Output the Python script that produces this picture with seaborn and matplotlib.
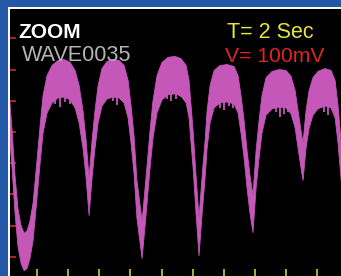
import numpy as np
import pandas as pd
import matplotlib
matplotlib.use("Agg")
import matplotlib.pyplot as plt
import seaborn as sns

# === Datos (tiempo en s, tension en mV) ===
t_sec = [-0.39, -0.06, 0.19, 0.39, 0.58, 0.77, 0.97, 1.16, 1.35, 1.54, 1.74,
         1.99, 2.19, 2.38, 2.64, 2.96, 3.34, 3.73, 4.12, 4.44, 4.70, 4.95, 5.15, 5.34,
         5.53, 5.72, 5.92, 6.17, 6.50, 6.88, 7.27, 7.59, 7.85, 8.04, 8.23, 8.42, 8.75,
         9.00, 9.26, 9.45, 9.71, 10.03, 10.42, 10.87, 11.25, 11.58, 11.77, 11.90, 12.03, 12.22, 12.41,
         12.61, 12.80, 12.93, 13.12, 13.38, 13.76, 14.21, 14.66, 14.92, 15.11, 15.31, 15.50, 15.69, 15.88,
         16.08, 16.27, 16.46, 16.72, 17.11, 17.56, 18.01, 18.33, 18.59, 18.78, 18.97, 19.10,
         19.29, 19.49, 19.74, 20.06, 20.51, 20.90, 21.16, 21.35, 21.54, 21.80, 22.12]
v_mid = [627, 569, 473, 344, 199, 93, 39, 16, 23, 55, 113,
         248, 360, 457, 521, 553, 569, 572, 563, 537, 489, 408, 312, 193,
         312, 408, 489, 543, 566, 572, 569, 553, 505, 424, 328, 183, 55,
         193, 344, 440, 521, 563, 579, 582, 575, 553, 505, 424, 344, 199, 64,
         199, 312, 408, 489, 537, 553, 556, 550, 521, 457, 376, 280, 199, 138,
         280, 376, 457, 514, 534, 540, 537, 518, 473, 408, 344, 305,
         408, 473, 514, 534, 543, 537, 505, 424, 312, 151, 55]
ruido_mv = 60          # semiancho de la banda de ruido

# picos de ruido que cuelgan bajo las crestas (s, mV minimo)
pico_t = [3.15, 3.47, 3.79, 4.12, 6.88, 7.14, 7.40,
          10.35, 10.61, 10.93, 11.25, 13.76, 14.02, 14.34, 14.60,
          17.36, 17.62, 17.88, 18.14, 20.45, 20.71, 20.96]
pico_v = [489, 480, 495, 489, 498, 488, 502,
          506, 498, 505, 512, 478, 472, 482, 476,
          463, 447, 458, 465, 465, 455, 470]

x_ticks = [2, 4, 6, 8, 10, 12, 14, 16, 18, 20]
y_ticks = [0, 100, 200, 300, 400, 500, 600, 700]

df = pd.DataFrame({"t": t_sec, "v": v_mid})
df["alto"] = df["v"] + ruido_mv
df["bajo"] = df["v"] - ruido_mv

# === Figura ===
sns.set_style("dark")
fig = plt.figure(figsize=(3.41, 2.76), dpi=100)
fig.patch.set_facecolor("#2258a6")
ax = fig.add_axes([9 / 341, 0, 332 / 341, 268 / 276])
ax.set_facecolor("black")

magenta = "#c457b7"
ax.fill_between(df["t"], df["bajo"], df["alto"], color=magenta, linewidth=0)
sns.lineplot(data=df, x="t", y="alto", ax=ax, color=magenta, linewidth=0.6)
sns.lineplot(data=df, x="t", y="bajo", ax=ax, color=magenta, linewidth=0.6)
ax.vlines(pico_t, pico_v, [v + 45 for v in pico_v], color=magenta, linewidth=1.3)

ax.set_xlim(0.19, 21.54)
ax.set_ylim(-61, 797)
ax.set_xlabel("")
ax.set_ylabel("")
ax.grid(False)

ax.set_xticks(x_ticks)
ax.set_yticks(y_ticks)
ax.set_xticklabels([])
ax.set_yticklabels([])
ax.tick_params(axis="x", direction="in", length=5, width=1.1, color="#e0e040", bottom=True)
ax.tick_params(axis="y", direction="in", length=5, width=1.1, color="#e03030", left=True)

for lado in ["right", "bottom"]:
    ax.spines[lado].set_visible(False)
for lado in ["left", "top"]:
    ax.spines[lado].set_visible(True)
    ax.spines[lado].set_color("white")
    ax.spines[lado].set_linewidth(1.4)

# === Textos ===
fuente = "Liberation Sans"
ax.text(0.027, 0.944, "ZOOM", transform=ax.transAxes, color="white", fontsize=15,
        fontweight="bold", family=fuente, va="top", ha="left")
ax.text(0.039, 0.862, "WAVE0035", transform=ax.transAxes, color="#b4b4b4", fontsize=15.6,
        family=fuente, va="top", ha="left")
ax.text(0.657, 0.948, "T= 2 Sec", transform=ax.transAxes, color="#e6e63c", fontsize=15.5,
        family=fuente, va="top", ha="left")
ax.text(0.651, 0.854, "V= 100mV", transform=ax.transAxes, color="#e02424", fontsize=15.2,
        family=fuente, va="top", ha="left")

fig.savefig("out.png", dpi=100, facecolor=fig.get_facecolor())
